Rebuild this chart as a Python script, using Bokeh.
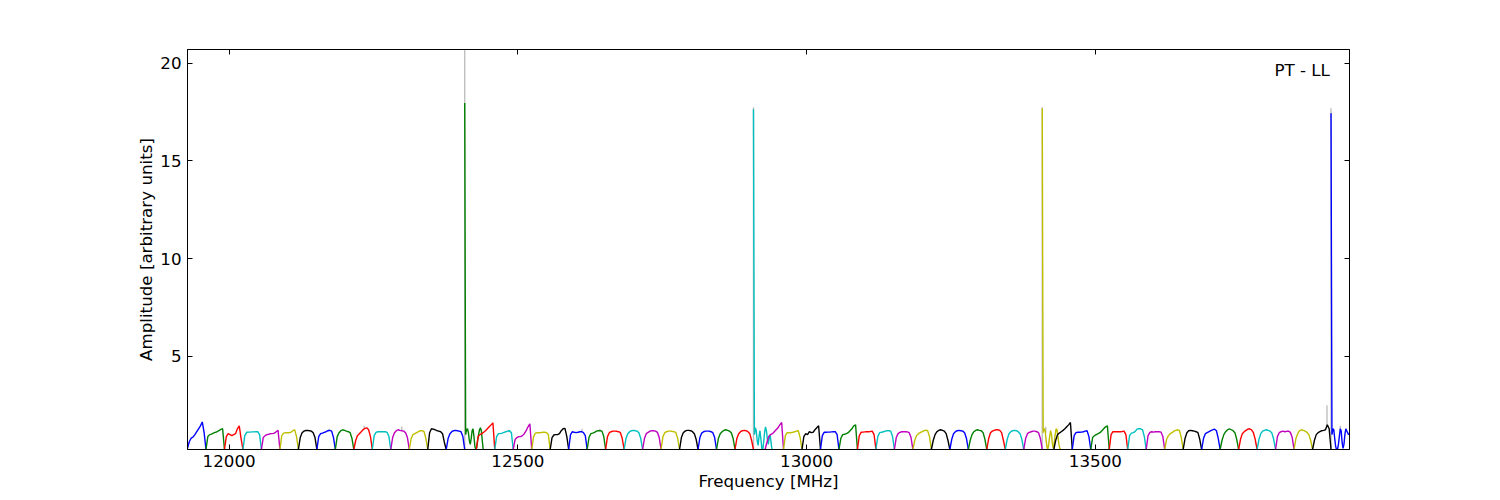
from bokeh.plotting import figure
from bokeh.models import Range1d, FixedTicker, LinearAxis, Label
from bokeh.embed import file_html
from bokeh.resources import INLINE

# ---------------- data ----------------
# start frequency of each 32 MHz channel [MHz]
chan_start = [
    11928, 11960, 11992, 12024, 12056, 12088, 12120, 12152, 12184, 12216,
    12248, 12280, 12312, 12344, 12376, 12408, 12428, 12460, 12492, 12524,
    12556, 12588, 12620, 12652, 12684, 12716, 12748, 12780, 12812, 12844,
    12876, 12908, 12928, 12960, 12992, 13024, 13056, 13088, 13120, 13152,
    13184, 13216, 13248, 13280, 13312, 13344, 13376, 13408, 13428, 13460,
    13492, 13524, 13556, 13588, 13620, 13652, 13684, 13716, 13748, 13780,
    13812, 13844, 13876, 13908,
]
chan_width = 32.0

# amplitude samples across each channel (equally spaced over the channel)
amp_profiles = [
    [0.30, 0.65, 0.82, 0.88, 1.00, 1.15, 1.30, 1.45, 1.65, 1.10, 0.24],
    [0.24, 0.90, 1.00, 1.03, 1.08, 1.12, 1.15, 1.20, 1.27, 1.30, 0.24],
    [0.24, 0.90, 1.05, 1.00, 0.95, 1.00, 1.05, 1.30, 1.45, 0.80, 0.24],
    [0.24, 0.95, 1.12, 1.13, 1.13, 1.14, 1.14, 1.15, 1.15, 1.00, 0.24],
    [0.24, 0.85, 0.95, 1.00, 1.02, 1.05, 1.05, 1.08, 1.15, 1.22, 0.24],
    [0.24, 0.95, 1.08, 1.10, 1.10, 1.10, 1.12, 1.20, 1.25, 0.90, 0.24],
    [0.24, 0.85, 1.10, 1.18, 1.21, 1.22, 1.20, 1.18, 1.10, 0.85, 0.24],
    [0.24, 0.90, 1.05, 1.08, 1.12, 1.15, 1.20, 1.22, 1.18, 0.85, 0.24],
    [0.24, 0.90, 1.10, 1.20, 1.25, 1.22, 1.18, 1.15, 1.10, 0.80, 0.24],
    [0.24, 0.70, 0.95, 1.05, 1.15, 1.25, 1.32, 1.35, 1.25, 0.90, 0.24],
    [0.24, 0.95, 1.12, 1.15, 1.15, 1.15, 1.15, 1.15, 1.12, 0.90, 0.24],
    [0.24, 0.85, 1.10, 1.20, 1.25, 1.22, 1.20, 1.18, 1.10, 0.85, 0.24],
    [0.24, 0.80, 1.00, 1.05, 1.10, 1.15, 1.20, 1.20, 1.15, 0.80, 0.24],
    [0.24, 1.10, 1.30, 1.28, 1.25, 1.20, 1.18, 1.15, 1.05, 0.60, 0.24],
    [0.24, 0.80, 1.05, 1.15, 1.20, 1.22, 1.20, 1.18, 1.15, 0.90, 0.24],
    [17.96, 1.00, 1.25, 1.30, 1.10, 0.70, 0.50, 0.80, 1.20, 1.30, 0.90,
     0.40, 0.24, 0.35, 0.70, 1.00, 1.25, 1.35, 1.20, 0.70, 0.24],
    [0.24, 0.90, 1.00, 1.05, 1.12, 1.20, 1.30, 1.40, 1.50, 1.60, 0.24],
    [0.24, 0.90, 1.05, 1.05, 1.08, 1.12, 1.15, 1.18, 1.20, 1.10, 0.24],
    [0.24, 0.75, 0.85, 0.90, 0.90, 0.95, 1.05, 1.20, 1.40, 1.55, 0.24],
    [0.24, 0.90, 1.08, 1.10, 1.10, 1.10, 1.12, 1.12, 1.10, 1.00, 0.24],
    [0.24, 0.85, 0.98, 1.00, 1.00, 1.05, 1.20, 1.30, 1.32, 0.90, 0.24],
    [0.24, 1.00, 1.15, 1.12, 1.10, 1.12, 1.15, 1.15, 1.10, 0.95, 0.24],
    [0.24, 0.85, 1.05, 1.08, 1.12, 1.18, 1.20, 1.20, 1.18, 0.90, 0.24],
    [0.24, 0.90, 1.10, 1.15, 1.18, 1.18, 1.17, 1.15, 1.10, 0.80, 0.24],
    [0.24, 0.80, 1.05, 1.15, 1.20, 1.22, 1.20, 1.18, 1.10, 0.80, 0.24],
    [0.24, 0.80, 1.05, 1.12, 1.18, 1.20, 1.20, 1.18, 1.12, 0.85, 0.24],
    [0.24, 0.90, 1.10, 1.15, 1.18, 1.18, 1.17, 1.15, 1.10, 0.80, 0.24],
    [0.24, 0.85, 1.10, 1.18, 1.22, 1.22, 1.20, 1.15, 1.05, 0.75, 0.24],
    [0.24, 0.85, 1.08, 1.15, 1.18, 1.18, 1.18, 1.15, 1.10, 0.85, 0.24],
    [0.24, 0.80, 1.05, 1.15, 1.22, 1.25, 1.22, 1.18, 1.10, 0.80, 0.24],
    [0.24, 0.80, 1.05, 1.15, 1.20, 1.22, 1.20, 1.15, 1.05, 0.70, 0.24],
    [17.65, 1.00, 1.35, 1.20, 0.70, 0.45, 0.90, 1.20, 0.80, 0.30, 0.24,
     0.60, 1.10, 1.40, 1.20, 0.80, 0.50, 0.80, 1.00, 0.60, 0.24],
    [0.24, 0.60, 0.90, 1.00, 1.05, 1.15, 1.25, 1.35, 1.50, 1.62, 0.24],
    [0.24, 0.95, 1.10, 1.10, 1.10, 1.12, 1.15, 1.18, 1.20, 0.85, 0.24],
    [0.24, 0.90, 1.05, 1.00, 1.15, 1.10, 1.12, 1.25, 1.35, 1.45, 0.24],
    [0.24, 0.95, 1.12, 1.12, 1.13, 1.13, 1.14, 1.15, 1.15, 1.00, 0.24],
    [0.24, 0.80, 1.00, 1.02, 1.05, 1.10, 1.20, 1.30, 1.45, 1.50, 0.24],
    [0.24, 0.95, 1.12, 1.13, 1.14, 1.15, 1.15, 1.16, 1.18, 1.00, 0.24],
    [0.24, 0.90, 1.10, 1.12, 1.15, 1.18, 1.20, 1.20, 1.18, 0.90, 0.24],
    [0.24, 0.85, 1.05, 1.12, 1.15, 1.15, 1.15, 1.14, 1.10, 0.85, 0.24],
    [0.24, 0.70, 0.95, 1.05, 1.10, 1.15, 1.20, 1.23, 1.20, 0.90, 0.24],
    [0.24, 0.70, 1.00, 1.15, 1.22, 1.25, 1.22, 1.18, 1.05, 0.70, 0.24],
    [0.24, 0.75, 1.05, 1.15, 1.20, 1.22, 1.20, 1.18, 1.10, 0.80, 0.24],
    [0.24, 0.70, 1.00, 1.15, 1.22, 1.25, 1.22, 1.20, 1.10, 0.75, 0.24],
    [0.24, 0.80, 1.10, 1.18, 1.22, 1.25, 1.25, 1.22, 1.10, 0.70, 0.24],
    [0.24, 0.75, 1.05, 1.15, 1.20, 1.22, 1.20, 1.15, 1.05, 0.75, 0.24],
    [0.24, 0.80, 1.05, 1.12, 1.15, 1.18, 1.18, 1.15, 1.10, 0.80, 0.24],
    [17.70, 1.10, 1.30, 1.25, 0.80, 0.40, 0.24, 0.50, 0.90, 1.20, 1.00,
     0.50, 0.30, 0.60, 1.00, 1.30, 1.25, 0.90, 0.50, 0.30, 0.24],
    [0.24, 0.70, 1.00, 1.08, 1.15, 1.22, 1.30, 1.40, 1.50, 1.62, 0.24],
    [0.24, 0.95, 1.10, 1.12, 1.12, 1.13, 1.15, 1.18, 1.20, 0.90, 0.24],
    [0.24, 0.85, 0.95, 1.00, 1.05, 1.10, 1.20, 1.30, 1.40, 1.45, 0.24],
    [0.24, 1.00, 1.15, 1.15, 1.15, 1.15, 1.15, 1.16, 1.18, 1.00, 0.24],
    [0.24, 0.95, 1.08, 1.10, 1.15, 1.28, 1.30, 1.30, 1.25, 0.90, 0.24],
    [0.24, 0.95, 1.12, 1.15, 1.13, 1.15, 1.15, 1.15, 1.13, 0.90, 0.24],
    [0.24, 0.75, 0.95, 1.05, 1.10, 1.18, 1.22, 1.25, 1.20, 0.85, 0.24],
    [0.24, 0.80, 1.10, 1.20, 1.22, 1.20, 1.18, 1.15, 1.10, 0.75, 0.24],
    [0.24, 0.80, 1.05, 1.10, 1.15, 1.20, 1.25, 1.28, 1.20, 0.80, 0.24],
    [0.24, 0.70, 1.00, 1.15, 1.25, 1.30, 1.25, 1.20, 1.10, 0.75, 0.24],
    [0.24, 0.75, 1.05, 1.15, 1.22, 1.28, 1.30, 1.25, 1.10, 0.75, 0.24],
    [0.24, 0.75, 1.05, 1.18, 1.22, 1.25, 1.22, 1.18, 1.08, 0.75, 0.24],
    [0.24, 0.90, 1.10, 1.15, 1.18, 1.15, 1.17, 1.18, 1.12, 0.85, 0.24],
    [0.24, 0.80, 1.05, 1.20, 1.25, 1.22, 1.18, 1.12, 1.00, 0.70, 0.24],
    [0.24, 0.70, 1.00, 1.10, 1.15, 1.20, 1.22, 1.25, 1.50, 1.30, 0.24],
    [17.44, 1.00, 1.30, 1.25, 0.80, 0.40, 0.24, 0.24, 0.50, 0.90, 1.30,
     1.20, 0.60, 0.30, 0.50, 1.00, 1.30, 1.20, 1.10, 1.00, 1.05],
]

# grey (second) series: only visible where it pokes out above the coloured one
grey_freq = [12408, 12908, 13408, 13908, 13901, 12173, 12234, 12299, 12484,
             12611, 12642, 13414, 13924]
grey_base = [0.24, 0.24, 0.24, 0.24, 1.40, 1.18, 1.30, 1.22, 1.12,
             1.15, 1.20, 1.10, 1.20]
grey_top = [20.70, 17.75, 17.75, 17.70, 2.50, 1.30, 1.45, 1.42, 1.25,
            1.30, 1.30, 1.40, 1.45]

x_ticks = [12000, 12500, 13000, 13500]
y_ticks = [5, 10, 15, 20]
panel_label = "PT - LL"

# ---------------- styling ----------------
color_cycle = ["#0000ff", "#008000", "#ff0000", "#00bfbf", "#bf00bf", "#bfbf00", "#000000"]
FONT = "DejaVu Sans"
FS = "16.7px"

xs, ys, cols = [], [], []
for i, (s, prof) in enumerate(zip(chan_start, amp_profiles)):
    n = len(prof)
    xs.append([s + chan_width * k / (n - 1) for k in range(n)])
    ys.append(prof)
    cols.append(color_cycle[i % len(color_cycle)])

p = figure(width=1500, height=500,
           x_range=Range1d(11928, 13940), y_range=Range1d(0.24, 20.7),
           output_backend="svg", toolbar_location=None,
           min_border_left=187, min_border_right=151,
           min_border_top=49, min_border_bottom=51)
p.xgrid.visible = False
p.ygrid.visible = False
p.outline_line_color = "black"
p.outline_line_width = 1
p.background_fill_color = "white"
p.border_fill_color = "white"

p.segment(x0=grey_freq, y0=grey_base, x1=grey_freq, y1=grey_top,
          line_color="#bfbfbf", line_width=1.4)
p.multi_line(xs=xs, ys=ys, line_color=cols, line_width=1.4)

bottom_ax = p.below[0]
left_ax = p.left[0]
bottom_ax.ticker = FixedTicker(ticks=x_ticks)
left_ax.ticker = FixedTicker(ticks=y_ticks)
bottom_ax.axis_label = "Frequency [MHz]"
left_ax.axis_label = "Amplitude [arbitrary units]"

top_ax = LinearAxis(ticker=FixedTicker(ticks=x_ticks))
right_ax = LinearAxis(ticker=FixedTicker(ticks=y_ticks))
top_ax.major_label_text_color = None
right_ax.major_label_text_color = None
p.add_layout(top_ax, "above")
p.add_layout(right_ax, "right")

for ax in [bottom_ax, left_ax, top_ax, right_ax]:
    ax.major_tick_in = 5
    ax.major_tick_out = 0
    ax.minor_tick_in = 0
    ax.minor_tick_out = 0
    ax.major_tick_line_color = "black"
    ax.axis_line_color = "black"
    ax.major_label_text_font = FONT
    ax.major_label_text_font_size = FS
    ax.axis_label_text_font = FONT
    ax.axis_label_text_font_size = FS
    ax.axis_label_text_font_style = "normal"
    ax.axis_label_text_color = "black"

bottom_ax.major_label_text_color = "black"
left_ax.major_label_text_color = "black"
bottom_ax.major_label_standoff = 5
bottom_ax.axis_label_standoff = 1
left_ax.major_label_standoff = 6
left_ax.axis_label_standoff = 1

p.add_layout(Label(x=13906, y=19.65, text=panel_label, text_align="right",
                   text_baseline="middle", text_font=FONT, text_font_size=FS,
                   text_color="black"))

open("out.html", "w").write(file_html(p, INLINE))
